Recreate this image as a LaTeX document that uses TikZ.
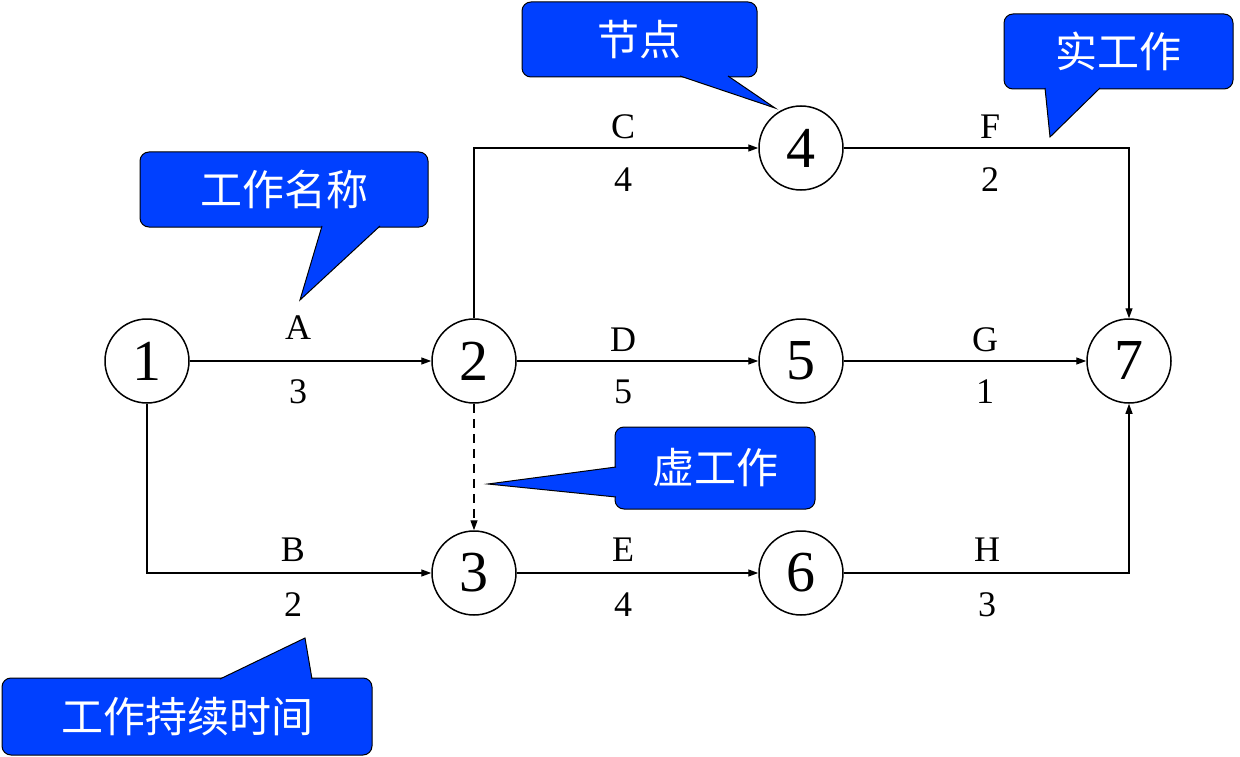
\documentclass[tikz,border=0pt]{standalone}
\usepackage{fontspec}
\setmainfont{Liberation Serif}
\newfontfamily\cjk{Noto Sans CJK SC}
\usetikzlibrary{arrows.meta}
\definecolor{cb}{RGB}{0,64,255}
\begin{document}
\begin{tikzpicture}[x=1pt,y=-1pt,
  ev/.style={circle,draw,line width=1.5pt,minimum size=84pt,inner sep=0pt,font=\fontsize{58}{58}\selectfont},
  ar/.style={line width=1.3pt,-{Triangle[length=10pt,width=7pt]}},
  lb/.style={font=\fontsize{36}{36}\selectfont,inner sep=0pt},
  ct/.style={font=\cjk\fontsize{42}{42}\selectfont,text=white,inner sep=0pt}]
\useasboundingbox (0,0) rectangle (1240,757);
\node[ev] (n1) at (147,361) {1};
\node[ev] (n2) at (474,361) {2};
\node[ev] (n3) at (474,573) {3};
\node[ev] (n4) at (801,148) {4};
\node[ev] (n5) at (801,361) {5};
\node[ev] (n6) at (801,573) {6};
\node[ev] (n7) at (1129,361) {7};
\draw[ar] (n1) -- (n2);
\draw[ar] (n2) -- (n5);
\draw[ar] (n5) -- (n7);
\draw[ar] (n3) -- (n6);
\draw[ar] (n2.north) |- (n4);
\draw[ar] (n4) -| (n7.north);
\draw[ar] (n1.south) |- (n3);
\draw[ar] (n6) -| (n7.south);
\draw[ar,dash pattern=on 9pt off 6pt] (n2) -- (n3);
\node[lb] (la) at (298,328) {A}; \node[lb] (la2) at (298,392) {3};
\node[lb] (lc) at (623,127) {C}; \node[lb] (lc2) at (623,180) {4};
\node[lb] (ld) at (623,340) {D}; \node[lb] (ld2) at (623,392) {5};
\node[lb] (lb1) at (293,550) {B}; \node[lb] (lb2) at (293,605) {2};
\node[lb] (le) at (623,550) {E}; \node[lb] (le2) at (623,605) {4};
\node[lb] (lf) at (990,127) {F}; \node[lb] (lf2) at (990,180) {2};
\node[lb] (lg) at (985,340) {G}; \node[lb] (lg2) at (985,392) {1};
\node[lb] (lh) at (987,550) {H}; \node[lb] (lh2) at (987,605) {3};
% callouts
\def\callout#1#2#3#4#5#6#7#8#9{%
  \draw[fill=cb,rounded corners=9pt,line width=1pt] (#1,#2) rectangle (#3,#4);
  \fill[cb] (#5) -- (#6) -- (#7) -- cycle;
  \draw[line width=1pt] (#5) -- (#6) -- (#7);
  \node[ct] at ({(#1+#3)/2},{(#2+#4)/2}) {#8#9};}
\callout{522}{2}{757}{77}{680,76}{775,108}{728,76}{节}{点}
\callout{1004}{14}{1233}{89}{1045,88}{1050,137}{1100,88}{实}{工作}
\callout{140}{152}{428}{227}{322,226}{300,300}{380,226}{工作}{名称}
\callout{615}{427}{815}{509}{616,467}{488,484}{616,497}{虚}{工作}
\callout{2}{678}{372}{755}{220,679}{305,638}{312,679}{工作}{持续时间}
\end{tikzpicture}
\end{document}
